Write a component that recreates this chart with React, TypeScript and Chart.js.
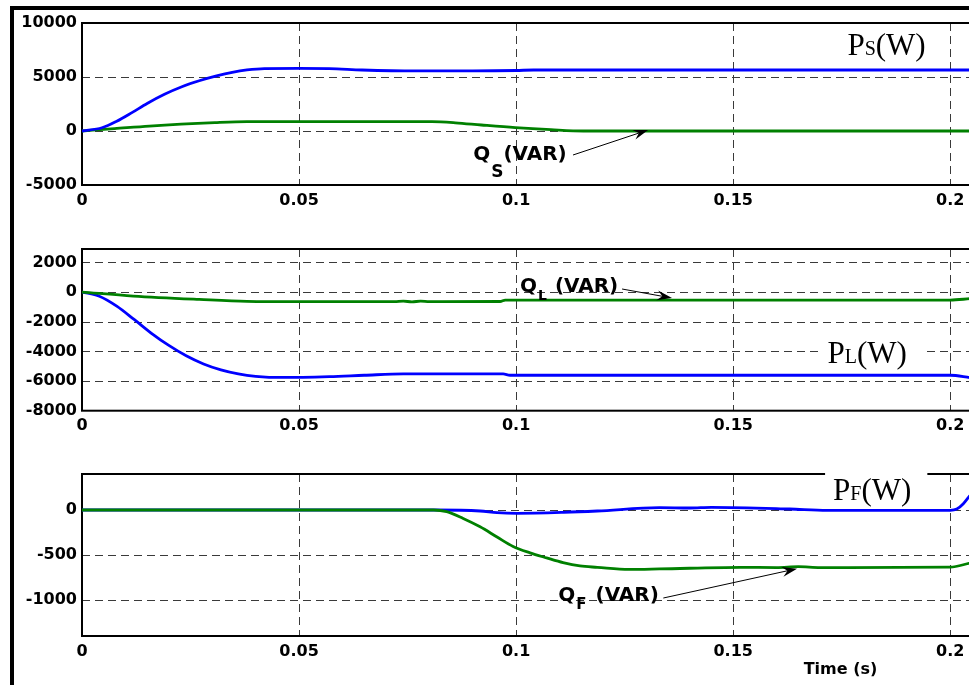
import React, { useEffect, useRef } from 'react';
import { Chart, registerables } from 'chart.js';
Chart.register(...registerables);

// ---------- axes ----------
const xTicks = [0, 0.05, 0.1, 0.15, 0.2];
const xMax = 0.205;
const yTicks1 = [-5000, 0, 5000, 10000];
const yTicks2 = [-8000, -6000, -4000, -2000, 0, 2000];
const yTicks3 = [-1000, -500, 0];
const yRange1 = [-5000, 10000];
const yRange2 = [-8000, 2900];
const yRange3 = [-1400, 400];

// ---------- panel 1 : source ----------
const tPs = [0, 0.0046, 0.008, 0.0115, 0.015, 0.019, 0.023, 0.027, 0.031, 0.0346, 0.038, 0.042, 0.05, 0.057, 0.0645, 0.077, 0.09, 0.1, 0.104, 0.2045];
const vPs = [0, 300, 900, 1700, 2550, 3400, 4100, 4650, 5100, 5430, 5650, 5780, 5800, 5780, 5650, 5560, 5560, 5600, 5650, 5650];
const tQs = [0, 0.0075, 0.0155, 0.0306, 0.038, 0.0806, 0.086, 0.092, 0.0998, 0.108, 0.1155, 0.2045];
const vQs = [0, 220, 460, 770, 860, 860, 760, 555, 310, 120, 0, 0];

// ---------- panel 2 : load ----------
const tPl = [0, 0.004, 0.008, 0.012, 0.016, 0.02, 0.024, 0.028, 0.032, 0.036, 0.04, 0.0463, 0.057, 0.065, 0.074, 0.097, 0.0986, 0.2, 0.2045];
const vPl = [0, -280, -950, -1850, -2780, -3600, -4300, -4850, -5250, -5520, -5680, -5760, -5700, -5610, -5520, -5520, -5610, -5610, -5770];
const tQl = [0, 0.0118, 0.027, 0.038, 0.05, 0.072, 0.074, 0.076, 0.078, 0.08, 0.0963, 0.0975, 0.2, 0.2045];
const vQl = [0, -270, -500, -630, -650, -650, -620, -660, -620, -650, -640, -540, -540, -450];

// ---------- panel 3 : filter ----------
const tPf = [0, 0.0815, 0.0917, 0.0956, 0.1002, 0.111, 0.1187, 0.133, 0.14, 0.145, 0.163, 0.1716, 0.2, 0.2015, 0.203, 0.2045];
const vPf = [0, 0, -11, -30, -37, -26, -11, 26, 22, 30, 11, -4, -4, 10, 70, 160];
const tQf = [0, 0.081, 0.084, 0.0878, 0.0917, 0.0956, 0.0993, 0.1032, 0.107, 0.1108, 0.1147, 0.1187, 0.126, 0.133, 0.1516, 0.16, 0.165, 0.17, 0.2, 0.2045];
const vQf = [0, 0, -19, -94, -187, -300, -405, -476, -532, -585, -622, -637, -660, -655, -637, -640, -630, -640, -635, -590];

const BLUE = '#0000ff';
const GREEN = '#008000';
const SANS = '"DejaVu Sans", Verdana, sans-serif';
const SERIF = '"Liberation Serif", "Times New Roman", serif';

const pts = (t: number[], v: number[]) => t.map((x, i) => ({ x, y: v[i] }));

const ds = (t: number[], v: number[], color: string) => ({
  data: pts(t, v),
  borderColor: color,
  borderWidth: 2.8,
  pointRadius: 0,
  fill: false,
  cubicInterpolationMode: 'monotone' as const,
});

function arrow(ctx: CanvasRenderingContext2D, x1: number, y1: number, x2: number, y2: number) {
  const a = Math.atan2(y2 - y1, x2 - x1);
  const c = Math.cos(a), s = Math.sin(a);
  const L = 15, W = 5;
  ctx.save();
  ctx.strokeStyle = '#000';
  ctx.fillStyle = '#000';
  ctx.lineWidth = 1;
  ctx.beginPath();
  ctx.moveTo(x1, y1);
  ctx.lineTo(x2 - 0.6 * L * c, y2 - 0.6 * L * s);
  ctx.stroke();
  ctx.beginPath();
  ctx.moveTo(x2, y2);
  ctx.lineTo(x2 - L * c + W * s, y2 - L * s - W * c);
  ctx.lineTo(x2 - 0.65 * L * c, y2 - 0.65 * L * s);
  ctx.lineTo(x2 - L * c - W * s, y2 - L * s + W * c);
  ctx.closePath();
  ctx.fill();
  ctx.restore();
}

function qLabel(ctx: CanvasRenderingContext2D, x: number, y: number, sub: string, subSize: number, subDy: number, gap: number) {
  ctx.save();
  ctx.fillStyle = '#000';
  ctx.textBaseline = 'alphabetic';
  ctx.textAlign = 'left';
  ctx.font = `bold 20px ${SANS}`;
  ctx.fillText('Q', x, y);
  const w1 = ctx.measureText('Q').width;
  ctx.font = `bold ${subSize}px ${SANS}`;
  ctx.fillText(sub, x + w1 + 1, y + subDy);
  const w2 = ctx.measureText(sub).width;
  ctx.font = `bold 20px ${SANS}`;
  ctx.fillText('(VAR)', x + w1 + 1 + w2 + gap, y);
  ctx.restore();
}

function pLabel(ctx: CanvasRenderingContext2D, x: number, y: number, sub: string, box: boolean) {
  ctx.save();
  ctx.textBaseline = 'alphabetic';
  ctx.textAlign = 'left';
  ctx.font = `31px ${SERIF}`;
  const w1 = ctx.measureText('P').width;
  const w3 = ctx.measureText('(W)').width;
  ctx.font = `20px ${SERIF}`;
  const w2 = ctx.measureText(sub).width;
  if (box) {
    ctx.fillStyle = '#fff';
    ctx.fillRect(x - 8, y - 37, w1 + w2 + w3 + 24, 42);
  }
  ctx.fillStyle = '#000';
  ctx.font = `31px ${SERIF}`;
  ctx.fillText('P', x, y);
  ctx.font = `20px ${SERIF}`;
  ctx.fillText(sub, x + w1, y);
  ctx.font = `31px ${SERIF}`;
  ctx.fillText('(W)', x + w1 + w2, y);
  ctx.restore();
}

function framePlugin(yTicks: number[], annotate: (chart: any) => void) {
  return {
    id: 'frame',
    beforeDatasetsDraw(chart: any) {
      const { ctx, chartArea: a } = chart;
      const x = chart.scales.x, y = chart.scales.y;
      ctx.save();
      ctx.strokeStyle = '#3a3a3a';
      ctx.lineWidth = 1;
      ctx.setLineDash([8, 5]);
      for (const v of xTicks) {
        const px = Math.round(x.getPixelForValue(v)) + 0.5;
        if (px <= a.left + 2 || px >= a.right - 2) continue;
        ctx.beginPath(); ctx.moveTo(px, a.top); ctx.lineTo(px, a.bottom); ctx.stroke();
      }
      for (const v of yTicks) {
        const py = Math.round(y.getPixelForValue(v)) + 0.5;
        if (py <= a.top + 2 || py >= a.bottom - 2) continue;
        ctx.beginPath(); ctx.moveTo(a.left, py); ctx.lineTo(a.right, py); ctx.stroke();
      }
      ctx.setLineDash([]);
      ctx.strokeStyle = '#000';
      ctx.lineWidth = 2;
      ctx.strokeRect(a.left, a.top, a.right - a.left, a.bottom - a.top);
      ctx.restore();
    },
    afterDatasetsDraw(chart: any) {
      annotate(chart);
    },
  };
}

function buildConfig(datasets: any[], yRange: number[], yTicks: number[], top: number, xAxisH: number, annotate: (c: any) => void) {
  const tickFont = { family: SANS, size: 16, weight: 'bold' as const };
  return {
    type: 'line' as const,
    data: { datasets },
    options: {
      animation: false as const,
      responsive: false,
      devicePixelRatio: 1,
      events: [],
      layout: { padding: { top, right: 8, bottom: 0, left: 0 } },
      plugins: { legend: { display: false }, tooltip: { enabled: false } },
      scales: {
        x: {
          type: 'linear' as const,
          min: 0,
          max: xMax,
          grid: { display: false, drawTicks: false },
          border: { display: false },
          afterBuildTicks: (s: any) => { s.ticks = xTicks.map((value) => ({ value })); },
          afterFit: (s: any) => { s.height = xAxisH; },
          ticks: { font: tickFont, color: '#000', padding: 6, maxRotation: 0, autoSkip: false, callback: (v: any) => String(v) },
        },
        y: {
          type: 'linear' as const,
          min: yRange[0],
          max: yRange[1],
          grid: { display: false, drawTicks: false },
          border: { display: false },
          afterBuildTicks: (s: any) => { s.ticks = yTicks.map((value) => ({ value })); },
          afterFit: (s: any) => { s.width = 82; },
          ticks: { font: tickFont, color: '#000', padding: 5, autoSkip: false, callback: (v: any) => String(v) },
        },
      },
    },
    plugins: [framePlugin(yTicks, annotate)],
  };
}

const ann1 = (chart: any) => {
  const { ctx } = chart;
  const x = chart.scales.x, y = chart.scales.y;
  pLabel(ctx, x.getPixelForValue(0.1763), y.getPixelForValue(7037), 'S', false);
  qLabel(ctx, x.getPixelForValue(0.0901), y.getPixelForValue(-2685), 'S', 17, 17, 0);
  arrow(ctx, x.getPixelForValue(0.1131), y.getPixelForValue(-2222), x.getPixelForValue(0.1304), y.getPixelForValue(93));
};

const ann2 = (chart: any) => {
  const { ctx } = chart;
  const x = chart.scales.x, y = chart.scales.y;
  qLabel(ctx, x.getPixelForValue(0.1009), y.getPixelForValue(0), 'L', 14, 8, 8);
  arrow(ctx, x.getPixelForValue(0.1244), y.getPixelForValue(203), x.getPixelForValue(0.1359), y.getPixelForValue(-405));
  pLabel(ctx, x.getPixelForValue(0.1717), y.getPixelForValue(-4800), 'L', true);
};

const ann3 = (chart: any) => {
  const { ctx, chartArea } = chart;
  const x = chart.scales.x, y = chart.scales.y;
  qLabel(ctx, x.getPixelForValue(0.1097), y.getPixelForValue(-1012), 'F', 15, 8, 9);
  arrow(ctx, x.getPixelForValue(0.1339), y.getPixelForValue(-978), x.getPixelForValue(0.1647), y.getPixelForValue(-652));
  pLabel(ctx, x.getPixelForValue(0.173), y.getPixelForValue(112), 'F', true);
  ctx.save();
  ctx.fillStyle = '#000';
  ctx.font = `bold 16px ${SANS}`;
  ctx.textAlign = 'center';
  ctx.textBaseline = 'alphabetic';
  ctx.fillText('Time (s)', x.getPixelForValue(0.1747), chartArea.bottom + 38);
  ctx.restore();
};

export default function App() {
  const r1 = useRef<HTMLCanvasElement>(null);
  const r2 = useRef<HTMLCanvasElement>(null);
  const r3 = useRef<HTMLCanvasElement>(null);

  useEffect(() => {
    const charts = [
      new Chart(r1.current as HTMLCanvasElement, buildConfig([ds(tPs, vPs, BLUE), ds(tQs, vQs, GREEN)], yRange1, yTicks1, 23, 35, ann1) as any),
      new Chart(r2.current as HTMLCanvasElement, buildConfig([ds(tQl, vQl, GREEN), ds(tPl, vPl, BLUE)], yRange2, yTicks2, 29, 29.3, ann2) as any),
      new Chart(r3.current as HTMLCanvasElement, buildConfig([ds(tQf, vQf, GREEN), ds(tPf, vPf, BLUE)], yRange3, yTicks3, 34, 49, ann3) as any),
    ];
    return () => charts.forEach((c) => c.destroy());
  }, []);

  return (
    <div style={{ position: 'absolute', left: 0, top: 0, width: 969, height: 685, overflow: 'hidden', background: '#fff' }}>
      <canvas ref={r1} width={980} height={220} style={{ position: 'absolute', left: 0, top: 0 }} />
      <canvas ref={r2} width={980} height={220} style={{ position: 'absolute', left: 0, top: 220 }} />
      <canvas ref={r3} width={980} height={245} style={{ position: 'absolute', left: 0, top: 440 }} />
      <div style={{ position: 'absolute', left: 10, top: 6, width: 970, height: 4, background: '#000' }} />
      <div style={{ position: 'absolute', left: 10, top: 6, width: 4, height: 690, background: '#000' }} />
    </div>
  );
}
